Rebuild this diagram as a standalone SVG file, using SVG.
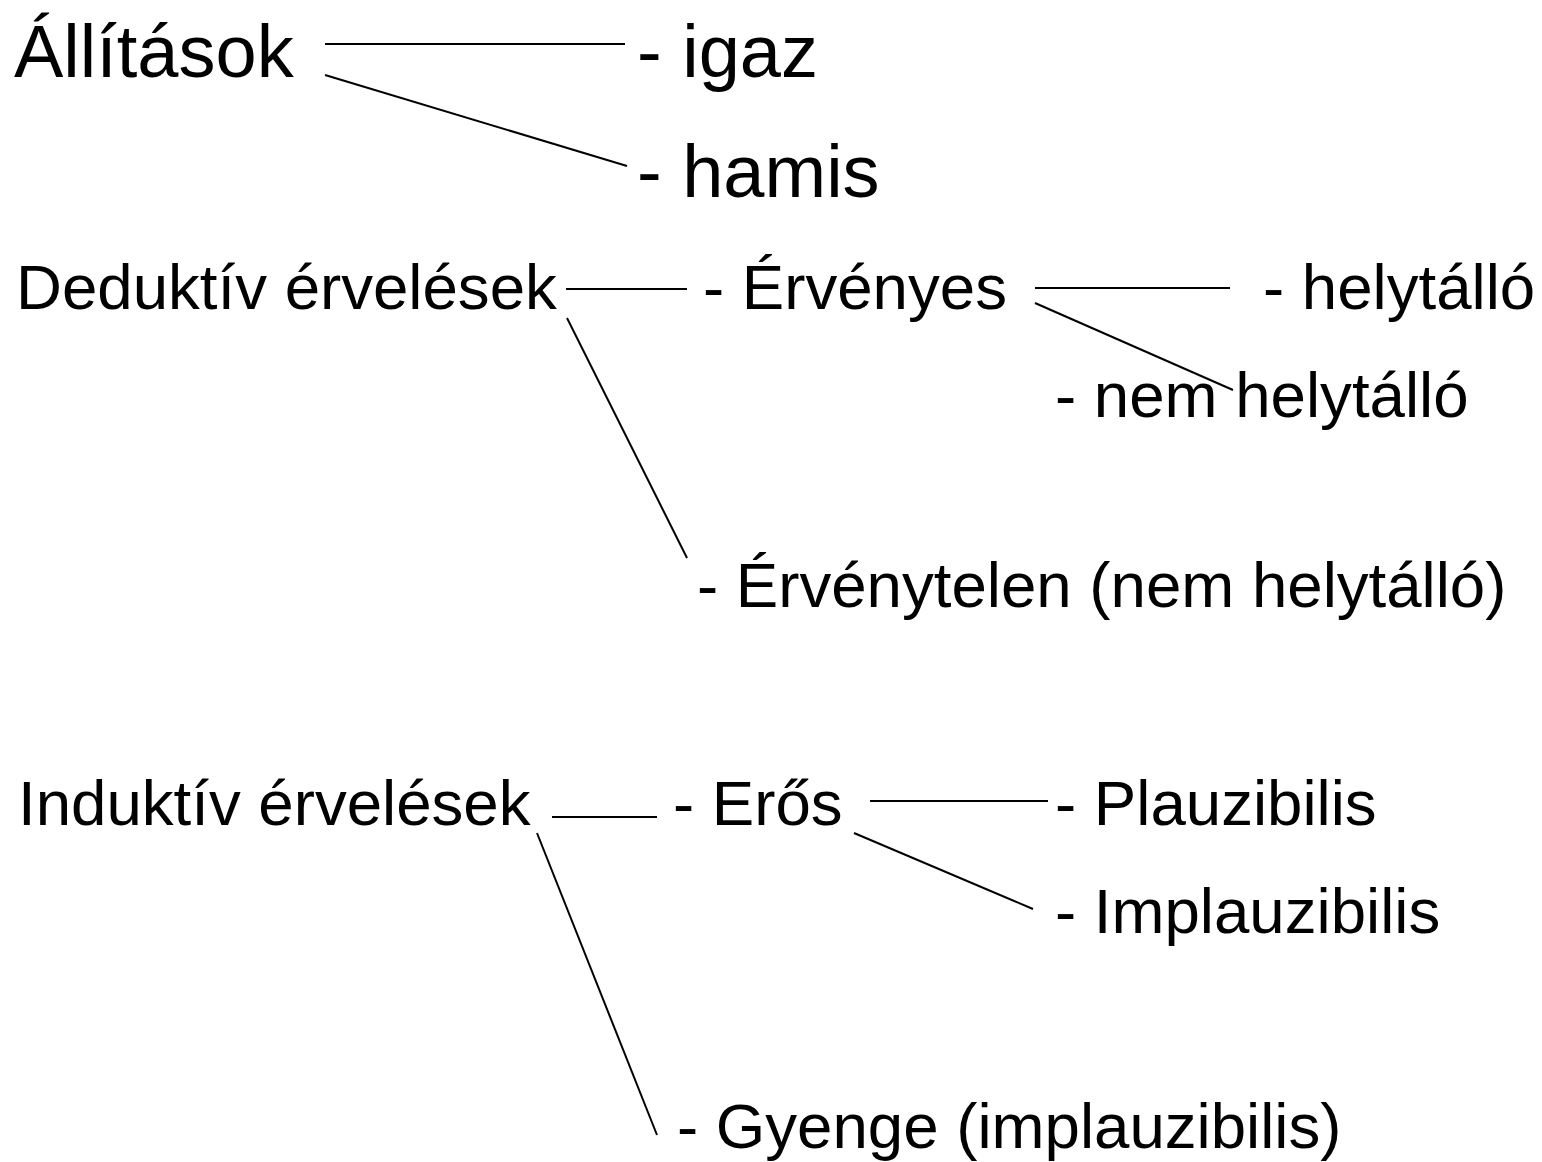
<svg xmlns="http://www.w3.org/2000/svg" width="1542" height="1162" viewBox="0 0 1542 1162">
<style>
text{font-family:"Liberation Sans",Arial,sans-serif;fill:#000}
.big{font-size:74px}
.med{font-size:63.6px}
line{stroke:#000;stroke-width:2}
</style>
<rect width="1542" height="1162" fill="#fff"/>
<g id="connectors">
<line x1="325" y1="44" x2="625" y2="44"/>
<line x1="325" y1="75" x2="627" y2="166"/>
<line x1="566" y1="289" x2="687" y2="289"/>
<line x1="567" y1="318" x2="687" y2="558"/>
<line x1="1035" y1="288" x2="1230" y2="288"/>
<line x1="1035" y1="303" x2="1233" y2="390"/>
<line x1="552" y1="817" x2="657" y2="817"/>
<line x1="537" y1="833" x2="657" y2="1135"/>
<line x1="870" y1="801" x2="1048" y2="801"/>
<line x1="854" y1="833" x2="1033" y2="909"/>
</g>
<g id="allitasok"><text class="big" x="14" y="77">Állítások</text></g>
<g id="igaz"><text class="big" x="637" y="77">- igaz</text></g>
<g id="hamis"><text class="big" x="637" y="197">- hamis</text></g>
<g id="deduktiv"><text class="med" x="16" y="309">Deduktív érvelések</text></g>
<g id="ervenyes"><text class="med" x="703" y="309">- Érvényes</text></g>
<g id="helytallo"><text class="med" x="1263" y="309">- helytálló</text></g>
<g id="nem-helytallo"><text class="med" x="1055" y="417">- nem helytálló</text></g>
<g id="ervenytelen"><text class="med" x="697" y="607">- Érvénytelen (nem helytálló)</text></g>
<g id="induktiv"><text class="med" x="18" y="825">Induktív érvelések</text></g>
<g id="eros"><text class="med" x="673" y="825">- Erős</text></g>
<g id="plauzibilis"><text class="med" x="1055" y="825">- Plauzibilis</text></g>
<g id="implauzibilis"><text class="med" x="1055" y="933">- Implauzibilis</text></g>
<g id="gyenge"><text class="med" x="677" y="1148">- Gyenge (implauzibilis)</text></g>
</svg>
